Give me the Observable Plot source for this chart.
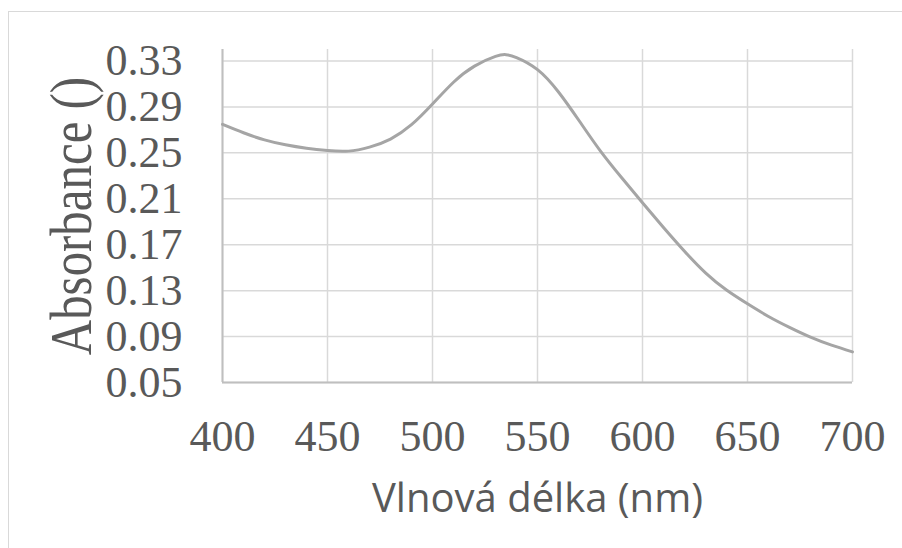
<!DOCTYPE html>
<html>
<head>
<meta charset="utf-8">
<script src="https://cdn.jsdelivr.net/npm/d3@7"></script>
<script src="https://cdn.jsdelivr.net/npm/@observablehq/plot@0.6"></script>
<style>
  html, body { margin: 0; padding: 0; background: #ffffff; }
</style>
</head>
<body>
<div id="chart"></div>
<script>
const wavelengths = [400, 410, 420, 430, 440, 450, 460, 470, 480, 490, 500, 510, 520, 530, 535, 540, 550, 560, 570, 580, 590, 600, 610, 620, 630, 640, 650, 660, 670, 680, 690, 700];
const absorbance  = [0.2748, 0.2675, 0.2613, 0.257, 0.254, 0.252, 0.2515, 0.255, 0.262, 0.2745, 0.2925, 0.3115, 0.3255, 0.334, 0.3355, 0.333, 0.3225, 0.303, 0.2775, 0.2515, 0.2285, 0.2065, 0.185, 0.1643, 0.1455, 0.1305, 0.1185, 0.1075, 0.098, 0.0895, 0.0825, 0.0767];
const xTicks = [400, 450, 500, 550, 600, 650, 700];
const yTicks = [0.05, 0.09, 0.13, 0.17, 0.21, 0.25, 0.29, 0.33];
const xTitle = "Vlnová délka (nm)";
const yTitle = "Absorbance ()";

const data = wavelengths.map((w, i) => ({w, a: absorbance[i]}));

const plot = Plot.plot({
  width: 902,
  height: 548,
  marginLeft: 222,
  marginRight: 50,
  marginTop: 49,
  marginBottom: 166,
  x: {domain: [400, 700]},
  y: {domain: [0.05, 0.34]},
  style: {fontFamily: "'Liberation Serif', 'Times New Roman', serif", background: "#ffffff", color: "#595959"},
  marks: [
    Plot.ruleX(xTicks, {stroke: "#d9d9d9", strokeWidth: 1.5}),
    Plot.ruleY(yTicks, {stroke: "#d9d9d9", strokeWidth: 1.5}),
    Plot.ruleX([400], {stroke: "#bfbfbf", strokeWidth: 2}),
    Plot.ruleY([0.05], {stroke: "#bfbfbf", strokeWidth: 2}),
    Plot.axisX({ticks: xTicks, tickSize: 0, tickPadding: 37, fontSize: 44, fill: "#595959", label: null, tickFormat: d => String(d)}),
    Plot.axisY({ticks: yTicks, tickSize: 0, tickPadding: 40, fontSize: 44, fill: "#595959", label: null, tickFormat: d => d.toFixed(2)}),
    Plot.line(data, {x: "w", y: "a", curve: "natural", stroke: "#a5a5a5", strokeWidth: 3}),
    Plot.text([yTitle], {frameAnchor: "left", dx: -151, rotate: -90, textAnchor: "middle", lineAnchor: "middle", fontSize: 60, fill: "#595959", className: "ytitle"}),
    Plot.text([xTitle], {frameAnchor: "bottom", dy: 129, lineAnchor: "bottom", fontSize: 40, fontFamily: "'Open Sans', sans-serif", fill: "#595959"})
  ]
});

document.getElementById("chart").appendChild(plot);

const svg = d3.select(plot);
svg.selectAll(".ytitle text").each(function() {
  const t = d3.select(this);
  const tr = t.attr("transform") || "";
  t.attr("transform", tr + " scale(0.815,1)");
});
svg.append("rect")
  .attr("x", 8.5).attr("y", 11.5)
  .attr("width", 902).attr("height", 548)
  .attr("fill", "none").attr("stroke", "#d9d9d9").attr("stroke-width", 1);
</script>
</body>
</html>
